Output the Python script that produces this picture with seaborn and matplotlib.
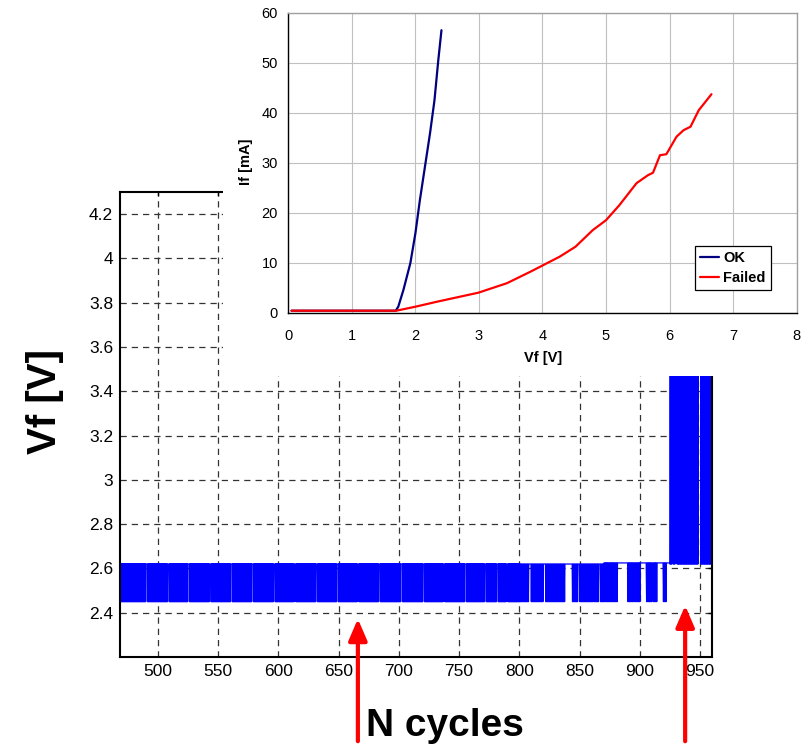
import numpy as np
import pandas as pd
import matplotlib
matplotlib.use('Agg')
import matplotlib.pyplot as plt
import seaborn as sns
from matplotlib.patches import Rectangle

sns.set_style('white')
plt.rcParams['font.family'] = ['Liberation Sans', 'DejaVu Sans']
plt.rcParams['text.color'] = 'black'
plt.rcParams['axes.labelcolor'] = 'black'
plt.rcParams['xtick.color'] = 'black'
plt.rcParams['ytick.color'] = 'black'

# ---------------- main chart : Vf vs number of cycles ----------------
vf_low = 2.45     # bottom of the toggling band
vf_high = 2.62    # top of the toggling band
vf_open = 4.6     # failed readings (go off the visible range)

# regimes of the signal: first cycle, last cycle, cycles per toggle, low/high level
regime_start = [469, 801, 870, 925]
regime_end = [801, 870, 925, 960]
regime_step = [0.2, 0.3, 0.35, 0.3]
regime_low = [vf_low, vf_low, vf_low, vf_high]
regime_high = [vf_high, vf_high, 2.625, vf_open]

# cycle ranges where the reading stays flat (white stripes in the band)
hold_from = [490, 508, 524.6, 542.6, 560.5, 578, 596, 613.2, 631, 648.3, 665.7, 683.3,
             701.5, 720, 736.7, 754.7, 771.3, 781, 789.3, 808, 820, 838, 848.5, 861,
             866, 881.5, 895, 900.5, 910, 914.5, 922.3, 926.8, 929.6, 948.8]
hold_to = [491.2, 509.2, 525.8, 543.8, 561.7, 579.2, 597.2, 614.4, 632.2, 649.5, 666.9, 684.5,
           702.7, 721.2, 737.9, 755.9, 772.5, 782.2, 790.5, 809.6, 821.4, 843.6, 850, 862,
           867, 890.2, 895.8, 905.5, 910.8, 919.3, 924.8, 927.6, 930.4, 950.2]

# measurement markers (arrows) : cycle, Vf at the arrow tip
arrow_cycle = [666, 937.7]
arrow_tip = [2.385, 2.445]

# ---------------- inset : I-V curves ----------------
ok_v = [0.05, 0.5, 1.0, 1.5, 1.69, 1.73, 1.81, 1.92, 2.0, 2.07, 2.15, 2.23, 2.30, 2.36, 2.41]
ok_i = [0.4, 0.4, 0.4, 0.4, 0.4, 1.2, 4.5, 9.9, 15.9, 22.5, 29.2, 35.9, 42.5, 50.5, 56.5]
failed_v = [0.05, 1.0, 1.7, 2.0, 2.34, 2.99, 3.44, 3.81, 4.27, 4.52, 4.79, 5.0, 5.21,
            5.48, 5.66, 5.74, 5.85, 5.95, 6.11, 6.22, 6.33, 6.46, 6.66]
failed_i = [0.4, 0.4, 0.4, 1.2, 2.2, 4.0, 5.9, 8.2, 11.2, 13.2, 16.5, 18.5, 21.5,
            25.9, 27.5, 28.0, 31.5, 31.7, 35.2, 36.5, 37.2, 40.5, 43.7]

# build the toggling trace
cyc_all, vf_all = [], []
for s, e, st, lo, hi in zip(regime_start, regime_end, regime_step, regime_low, regime_high):
    t = np.arange(s, e, st)
    v = np.where(np.arange(len(t)) % 2 == 0, lo, hi)
    for a, b in zip(hold_from, hold_to):
        v[(t >= a) & (t <= b)] = hi
    cyc_all.append(t)
    vf_all.append(v)
trace = pd.DataFrame({'N': np.concatenate(cyc_all), 'Vf': np.concatenate(vf_all)})

fig = plt.figure(figsize=(8.01, 7.44), dpi=100)
ax = fig.add_axes([0.1498, 0.1169, 0.7391, 0.625])
sns.lineplot(data=trace, x='N', y='Vf', ax=ax, color='#0000ff', lw=0.9,
             sort=False, estimator=None)
ax.set_xlim(468.5, 960)
ax.set_ylim(2.2, 4.3)
ax.set_xticks(np.arange(500, 951, 50))
yt = [2.4, 2.6, 2.8, 3.0, 3.2, 3.4, 3.6, 3.8, 4.0, 4.2]
ax.set_yticks(yt)
ax.set_yticklabels(['%g' % y for y in yt])
ax.set_xlabel('')
ax.set_ylabel('')
ax.grid(True, linestyle=(0, (5, 4)), color='#333333', lw=0.9)
ax.tick_params(direction='in', top=True, right=True, length=3, width=1,
               labelsize=12.5, colors='black', pad=5)
for sp in ax.spines.values():
    sp.set_color('black')
    sp.set_linewidth(1.5)

for xc, yt_ in zip(arrow_cycle, arrow_tip):
    ax.annotate('', xy=(xc, yt_), xycoords='data', xytext=(xc, 0.0),
                textcoords=('data', 'figure fraction'), annotation_clip=False,
                arrowprops=dict(arrowstyle='-|>,head_length=0.65,head_width=0.28',
                                color='#ff0000', lw=3, mutation_scale=20))

fig.text(0.556, 0.011, 'N cycles', fontsize=28, fontweight='bold', ha='center', va='baseline')
fig.text(0.056, 0.46, 'Vf [V]', fontsize=29, fontweight='bold', rotation=90,
         ha='center', va='center')

# white panel behind the inset
fig.add_artist(Rectangle((0.278, 0.4946), 0.722, 0.5054, transform=fig.transFigure,
                         facecolor='white', edgecolor='none', zorder=1))

iv = pd.concat([pd.DataFrame({'V': ok_v, 'I': ok_i, 'state': 'OK'}),
                pd.DataFrame({'V': failed_v, 'I': failed_i, 'state': 'Failed'})])
axin = fig.add_axes([0.36, 0.5797, 0.6345, 0.4032], zorder=2)
sns.lineplot(data=iv, x='V', y='I', hue='state', palette={'OK': '#000080', 'Failed': '#ff0000'},
             ax=axin, sort=False, estimator=None, lw=1.6)
axin.set_xlim(0, 8)
axin.set_ylim(0, 60)
axin.set_xticks(range(0, 9))
axin.set_yticks(range(0, 61, 10))
axin.grid(True, color='#c0c0c0', lw=0.8)
axin.tick_params(direction='out', length=4, width=0.8, labelsize=10.5, colors='black')
axin.tick_params(axis='x', pad=8)
for side in ['left', 'bottom']:
    axin.spines[side].set_color('black')
    axin.spines[side].set_linewidth(1)
for side in ['top', 'right']:
    axin.spines[side].set_color('#a0a0a0')
    axin.spines[side].set_linewidth(1)
axin.set_xlabel('Vf [V]', fontsize=10.5, fontweight='bold')
axin.set_ylabel('If [mA]', fontsize=10.5, fontweight='bold')
axin.xaxis.set_label_coords(0.501, -0.128)
axin.yaxis.set_label_coords(-0.07, 0.503)
leg = axin.legend(loc='lower left', bbox_to_anchor=(0.80, 0.076), borderaxespad=0,
                  frameon=True, fancybox=False, edgecolor='black', framealpha=1,
                  prop={'weight': 'bold', 'size': 10.5}, handlelength=1.3,
                  borderpad=0.35, labelspacing=0.4, handletextpad=0.3, title=None)
leg.get_frame().set_linewidth(0.9)

fig.savefig('out.png', dpi=100)
